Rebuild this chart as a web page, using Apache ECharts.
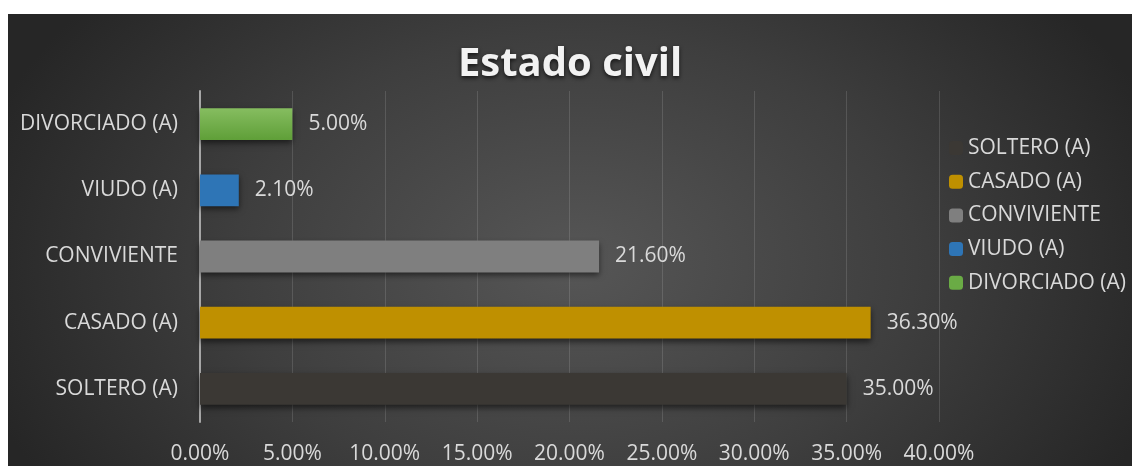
<!DOCTYPE html>
<html>
<head>
<meta charset="utf-8">
<script src="https://cdn.jsdelivr.net/npm/echarts@6/dist/echarts.min.js"></script>
<style>
html, body {
  margin: 0;
  padding: 0;
  background: #fff;
  width: 1132px;
  height: 466px;
  overflow: hidden;
}
#main {
  position: absolute;
  left: 8px;
  top: 14px;
  width: 1124px;
  height: 452px;
  background: radial-gradient(ellipse 620px 420px at 567px 250px, #565656 0%, #3e3e3e 55%, #262626 100%);
}
</style>
</head>
<body>
<div id="main"></div>
<script>
// categorias (de abajo hacia arriba, como en el eje)
var categories = ['SOLTERO (A)', 'CASADO (A)', 'CONVIVIENTE', 'VIUDO (A)', 'DIVORCIADO (A)']
var values = [35.0, 36.3, 21.6, 2.1, 5.0]
var xTicks = [0, 5, 10, 15, 20, 25, 30, 35, 40]

var colors = [
  '#3b3834',
  '#bf9000',
  '#7f7f7f',
  '#2e75b6',
  new echarts.graphic.LinearGradient(0, 0, 0, 1, [
    { offset: 0, color: '#86bd60' },
    { offset: 1, color: '#5f9f38' }
  ])
]
var legendColors = ['#3b3834', '#bf9000', '#7f7f7f', '#2e75b6', '#6aab45']

var txt = '#d9d9d9'
var font = 'Open Sans'
var fs = 21

var series = categories.map(function (name, i) {
  return {
    name: name,
    type: 'bar',
    stack: 'all',
    barCategoryGap: '52%',
    data: categories.map(function (c, j) { return j === i ? values[i] : '-' }),
    itemStyle: {
      color: colors[i],
      shadowColor: 'rgba(0,0,0,0.55)',
      shadowBlur: 6,
      shadowOffsetY: 3
    },
    label: {
      show: true,
      position: 'right',
      distance: 16,
      color: txt,
      fontFamily: font,
      fontSize: fs,
      formatter: function (p) { return p.value.toFixed(2) + '%' }
    }
  }
})

var myChart = echarts.init(document.getElementById('main'))
myChart.setOption({
  animation: false,
  title: {
    text: 'Estado civil',
    left: 'center',
    top: 26,
    textStyle: {
      color: '#f2f2f2',
      fontFamily: font,
      fontWeight: 'bold',
      fontSize: 40,
      textShadowColor: 'rgba(0,0,0,0.7)',
      textShadowBlur: 4,
      textShadowOffsetY: 2
    }
  },
  legend: {
    orient: 'vertical',
    left: 941,
    top: 123,
    padding: 0,
    itemWidth: 14,
    itemHeight: 14,
    itemGap: 11.7,
    data: categories.map(function (c, i) {
      return { name: c, itemStyle: { color: legendColors[i], shadowBlur: 0 } }
    }),
    textStyle: { color: txt, fontFamily: font, fontSize: fs, lineHeight: 22 }
  },
  grid: {
    left: 192,
    right: 193,
    top: 77,
    bottom: 44
  },
  xAxis: {
    type: 'value',
    min: xTicks[0],
    max: xTicks[xTicks.length - 1],
    interval: 5,
    axisLine: { show: false },
    axisTick: { show: false },
    splitLine: { lineStyle: { color: 'rgba(255,255,255,0.13)', width: 1 } },
    axisLabel: {
      color: txt,
      fontFamily: font,
      fontSize: fs,
      margin: 22,
      formatter: function (v) { return v.toFixed(2) + '%' }
    }
  },
  yAxis: {
    type: 'category',
    data: categories,
    axisLine: { lineStyle: { color: '#a6a6a6', width: 2 } },
    axisTick: { show: false },
    axisLabel: {
      color: txt,
      fontFamily: font,
      fontSize: fs,
      margin: 22
    }
  },
  series: series
})
</script>
</body>
</html>
